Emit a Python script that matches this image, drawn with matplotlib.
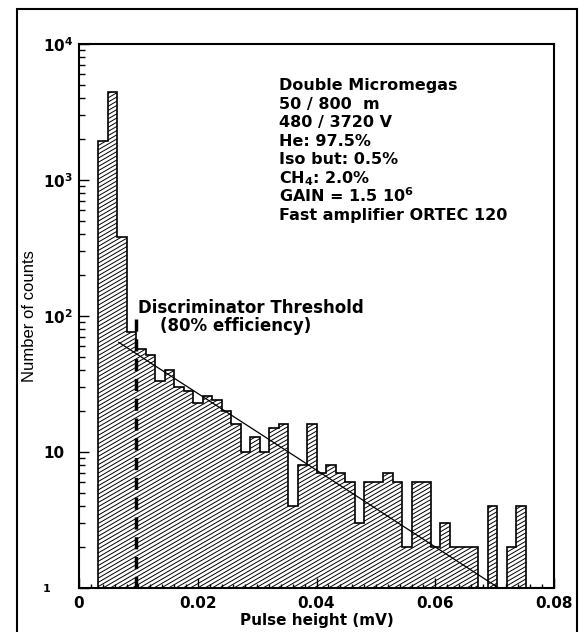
import numpy as np
import matplotlib.pyplot as plt
from matplotlib.collections import LineCollection
from matplotlib.patches import Rectangle
from matplotlib.ticker import MultipleLocator, NullFormatter, LogLocator

plt.rcParams['font.family'] = 'DejaVu Sans'
plt.rcParams['font.weight'] = 'bold'
plt.rcParams['mathtext.fontset'] = 'dejavusans'
plt.rcParams['mathtext.default'] = 'bf'

# histogram: 0.0016 mV bins, first filled bin starts at bin index 2
bin_width = 0.0016
first_bin = 2
counts = [1950, 4400, 380, 76, 57, 52, 33, 40, 30, 28,
          23, 26, 24, 20, 16, 10, 13, 10, 15, 16,
          4, 8, 16, 7, 8, 7, 6, 3, 6, 6,
          7, 6, 2, 6, 6, 2, 3, 2, 2, 2,
          0, 4, 0, 2, 4]

# exponential fit drawn as a straight line on the log scale
fit_x = [0.0067, 0.0707]
fit_y = [64, 1]

threshold_x = 0.0096
threshold_top = 95

info_lines = ["Double Micromegas",
              "50 / 800  m",
              "480 / 3720 V",
              "He: 97.5%",
              "Iso but: 0.5%",
              "CH$_4$: 2.0%",
              "GAIN = 1.5 10$^6$",
              "Fast amplifier ORTEC 120"]

ytick_vals = [1, 10, 100, 1000, 10000]
ytick_labels = ["1", "10", "$10^2$", "$10^3$", "$10^4$"]
xtick_vals = [0, 0.02, 0.04, 0.06, 0.08]
xtick_labels = ["0", "0.02", "0.04", "0.06", "0.08"]

W, H = 580, 632
fig = plt.figure(figsize=(W / 100, H / 100), dpi=100)
ax_pos = [79 / W, (H - 588) / H, (554 - 79) / W, (588 - 44) / H]
ax = fig.add_axes(ax_pos)
ax.set_yscale('log')
ax.set_xlim(0, 0.08)
ax.set_ylim(1, 1e4)

counts = np.array(counts, dtype=float)
edges = bin_width * np.arange(first_bin, first_bin + len(counts) + 1)
vals = np.where(counts > 0, counts, 0.5)

# invisible filled shape used to clip the hatching
shape = ax.stairs(vals, edges, baseline=0.5, fill=True,
                  facecolor='none', edgecolor='none')

# custom shallow hatching
ax_w = ax_pos[2] * W
ax_h = ax_pos[3] * H
slope = np.tan(np.radians(30))
step = 4.2
segs = []
for c in np.arange(-slope * ax_w, ax_h, step):
    segs.append([(0, c / ax_h), (1, (c + slope * ax_w) / ax_h)])
hatch = LineCollection(segs, transform=ax.transAxes, colors='k', linewidths=0.7)
ax.add_collection(hatch)
hatch.set_clip_path(shape)

ax.stairs(vals, edges, baseline=0.5, color='k', lw=1.2)

ax.plot(fit_x, fit_y, color='k', lw=0.9)
ax.plot([threshold_x, threshold_x], [threshold_top, 1], color='k', lw=2.5,
        linestyle=(0, (3.5, 2.2)))

for sp in ax.spines.values():
    sp.set_linewidth(1.5)

ax.set_xticks(xtick_vals, xtick_labels)
ax.set_yticks(ytick_vals, ytick_labels)
ax.xaxis.set_minor_locator(MultipleLocator(0.002))
ax.yaxis.set_minor_locator(LogLocator(base=10, subs=np.arange(2, 10)))
ax.yaxis.set_minor_formatter(NullFormatter())
ax.tick_params(which='both', direction='in', top=False, right=False, labelsize=11)
ax.tick_params(axis='y', which='major', length=7, width=1, pad=26)
ax.tick_params(axis='y', which='minor', length=4, width=1)
ax.tick_params(axis='x', which='major', length=7, width=1, pad=6)
ax.tick_params(axis='x', which='minor', length=3, width=1)
for lab in ax.get_yticklabels():
    lab.set_horizontalalignment('left')
ax.get_yticklabels()[0].set_fontsize(8)

ax.set_xlabel("Pulse height (mV)", fontsize=11, weight='bold', va='center')
ax.xaxis.set_label_coords(0.5, -(620 - 588) / ax_h)
ax.set_ylabel("Number of counts", family='Liberation Sans', weight='normal',
              fontsize=12, va='center')
ax.yaxis.set_label_coords(-(79 - 29.6) / ax_w, 0.5)

ax.text((138 - 79) / ax_w, (588 - 307.7) / ax_h, "Discriminator Threshold",
        transform=ax.transAxes, fontsize=12, va='center')
ax.text((160 - 79) / ax_w, (588 - 325.8) / ax_h, "(80% efficiency)",
        transform=ax.transAxes, fontsize=12, va='center')

for i, line in enumerate(info_lines):
    ax.text((279 - 79) / ax_w, (588 - 90 - 18.6 * i) / ax_h, line,
            transform=ax.transAxes, fontsize=11.5, va='baseline')

fig.add_artist(Rectangle((17 / W, -0.02), (577 - 17) / W, (H - 9) / H + 0.02,
                         transform=fig.transFigure, fill=False, lw=1.5, ec='k'))

fig.savefig("out.png", dpi=100)
